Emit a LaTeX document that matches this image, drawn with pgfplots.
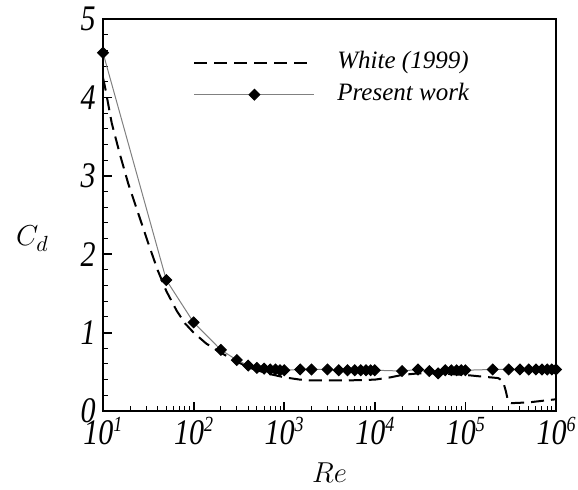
\documentclass[border=0pt]{standalone}
\usepackage{fontspec}
\setmainfont{Liberation Serif}
\usepackage{graphicx}
\usepackage{pgfplots}
\pgfplotsset{compat=1.18}
\newcommand{\xl}[1]{\scalebox{1}[1.2]{\itshape 10\raisebox{5.3pt}{\fontsize{9}{10}\selectfont\itshape #1}}}
\newcommand{\yl}[1]{\scalebox{1}[1.2]{\itshape #1}}
\begin{document}
\begin{tikzpicture}
\begin{axis}[
  at={(0,0)}, anchor=south west,
  scale only axis, width=226.5pt, height=196pt,
  xmode=log, xmin=10, xmax=1e6, ymin=0, ymax=5,
  xtick={10,100,1000,10000,100000,1000000},
  xticklabels={\xl{1},\xl{2},\xl{3},\xl{4},\xl{5},\xl{6}},
  minor xtick={20,30,40,50,60,70,80,90,200,300,400,500,600,700,800,900,2000,3000,4000,5000,6000,7000,8000,9000,20000,30000,40000,50000,60000,70000,80000,90000,200000,300000,400000,500000,600000,700000,800000,900000},
  ytick={0,1,2,3,4,5},
  yticklabels={\yl{0},\yl{1},\yl{2},\yl{3},\yl{4},\yl{5}},
  minor y tick num=4,
  xtick pos=bottom, ytick pos=left,
  tick align=inside,
  major tick length=4.5pt, minor tick length=2.3pt,
  axis line style={line width=1pt},
  major tick style={line width=0.9pt, black},
  minor tick style={line width=0.5pt, black},
  tick label style={font=\fontsize{15}{18}\selectfont},
  xticklabel style={inner sep=0pt, yshift=-3pt},
  yticklabel style={inner sep=0pt, xshift=-3.5pt},
  xlabel={$Re$},
  ylabel={$C_d$},
  label style={font=\fontsize{15}{18}\selectfont},
  xlabel style={at={(axis description cs:0.5,0)}, anchor=center, yshift=-31pt},
  ylabel style={at={(axis description cs:0,0.44)}, anchor=center, rotate=-90, xshift=-35.25pt},
  legend image code/.code={\draw[mark repeat=2,mark phase=2,#1] plot coordinates {(0pt,0pt) (30pt,0pt) (60pt,0pt)};},
  legend style={draw=none, fill=none, at={(axis description cs:0,1)}, anchor=north west,
    xshift=45pt, yshift=-15.65pt, inner sep=0pt, row sep=4pt, column sep=11pt,
    font=\fontsize{12.5}{15}\selectfont\itshape,
    nodes={inner sep=0pt, text height=9pt, text depth=3pt}},
  legend cell align=left,
]
\addplot[black, line width=1pt, dash pattern=on 6.5pt off 3.5pt] coordinates {
(10,4.25) (10.5,4.14) (12.5,3.67) (15.4,3.27) (19,2.90) (24.5,2.52) (31.6,2.14) (40,1.80) (50,1.53) (65,1.28) (80,1.12) (100,1.00) (138,0.86) (195,0.75) (300,0.63) (400,0.56) (500,0.52) (700,0.47) (1000,0.43) (1500,0.40) (2000,0.39) (5000,0.39) (10000,0.40) (15000,0.43) (20000,0.46) (30000,0.48) (50000,0.48) (100000,0.46) (150000,0.44) (230000,0.42) (260000,0.38) (280000,0.25) (295000,0.13) (320000,0.10) (500000,0.11) (1000000,0.15)
};
\addlegendentry{White (1999)}
\addplot[gray, line width=0.5pt, mark=square*, mark size=1.9pt, mark options={rotate=45, black, fill=black}] coordinates {
(10,4.57) (50,1.67) (100,1.13) (200,0.78) (300,0.65) (400,0.58) (500,0.55) (600,0.54) (700,0.53) (800,0.53) (900,0.52) (1000,0.52) (1500,0.53) (2000,0.53) (3000,0.53) (4000,0.52) (5000,0.52) (6000,0.52) (7000,0.52) (8000,0.52) (9000,0.52) (10000,0.52) (20000,0.51) (30000,0.53) (40000,0.51) (50000,0.48) (60000,0.52) (70000,0.52) (80000,0.52) (90000,0.52) (100000,0.52) (200000,0.53) (300000,0.53) (400000,0.53) (500000,0.53) (600000,0.53) (700000,0.53) (800000,0.53) (900000,0.53) (1000000,0.53)
};
\addlegendentry{Present work}
\end{axis}
\pgfresetboundingbox
\path[use as bounding box] (-51.5pt,-39pt) rectangle (237.5pt,205.5pt);
\end{tikzpicture}
\end{document}
